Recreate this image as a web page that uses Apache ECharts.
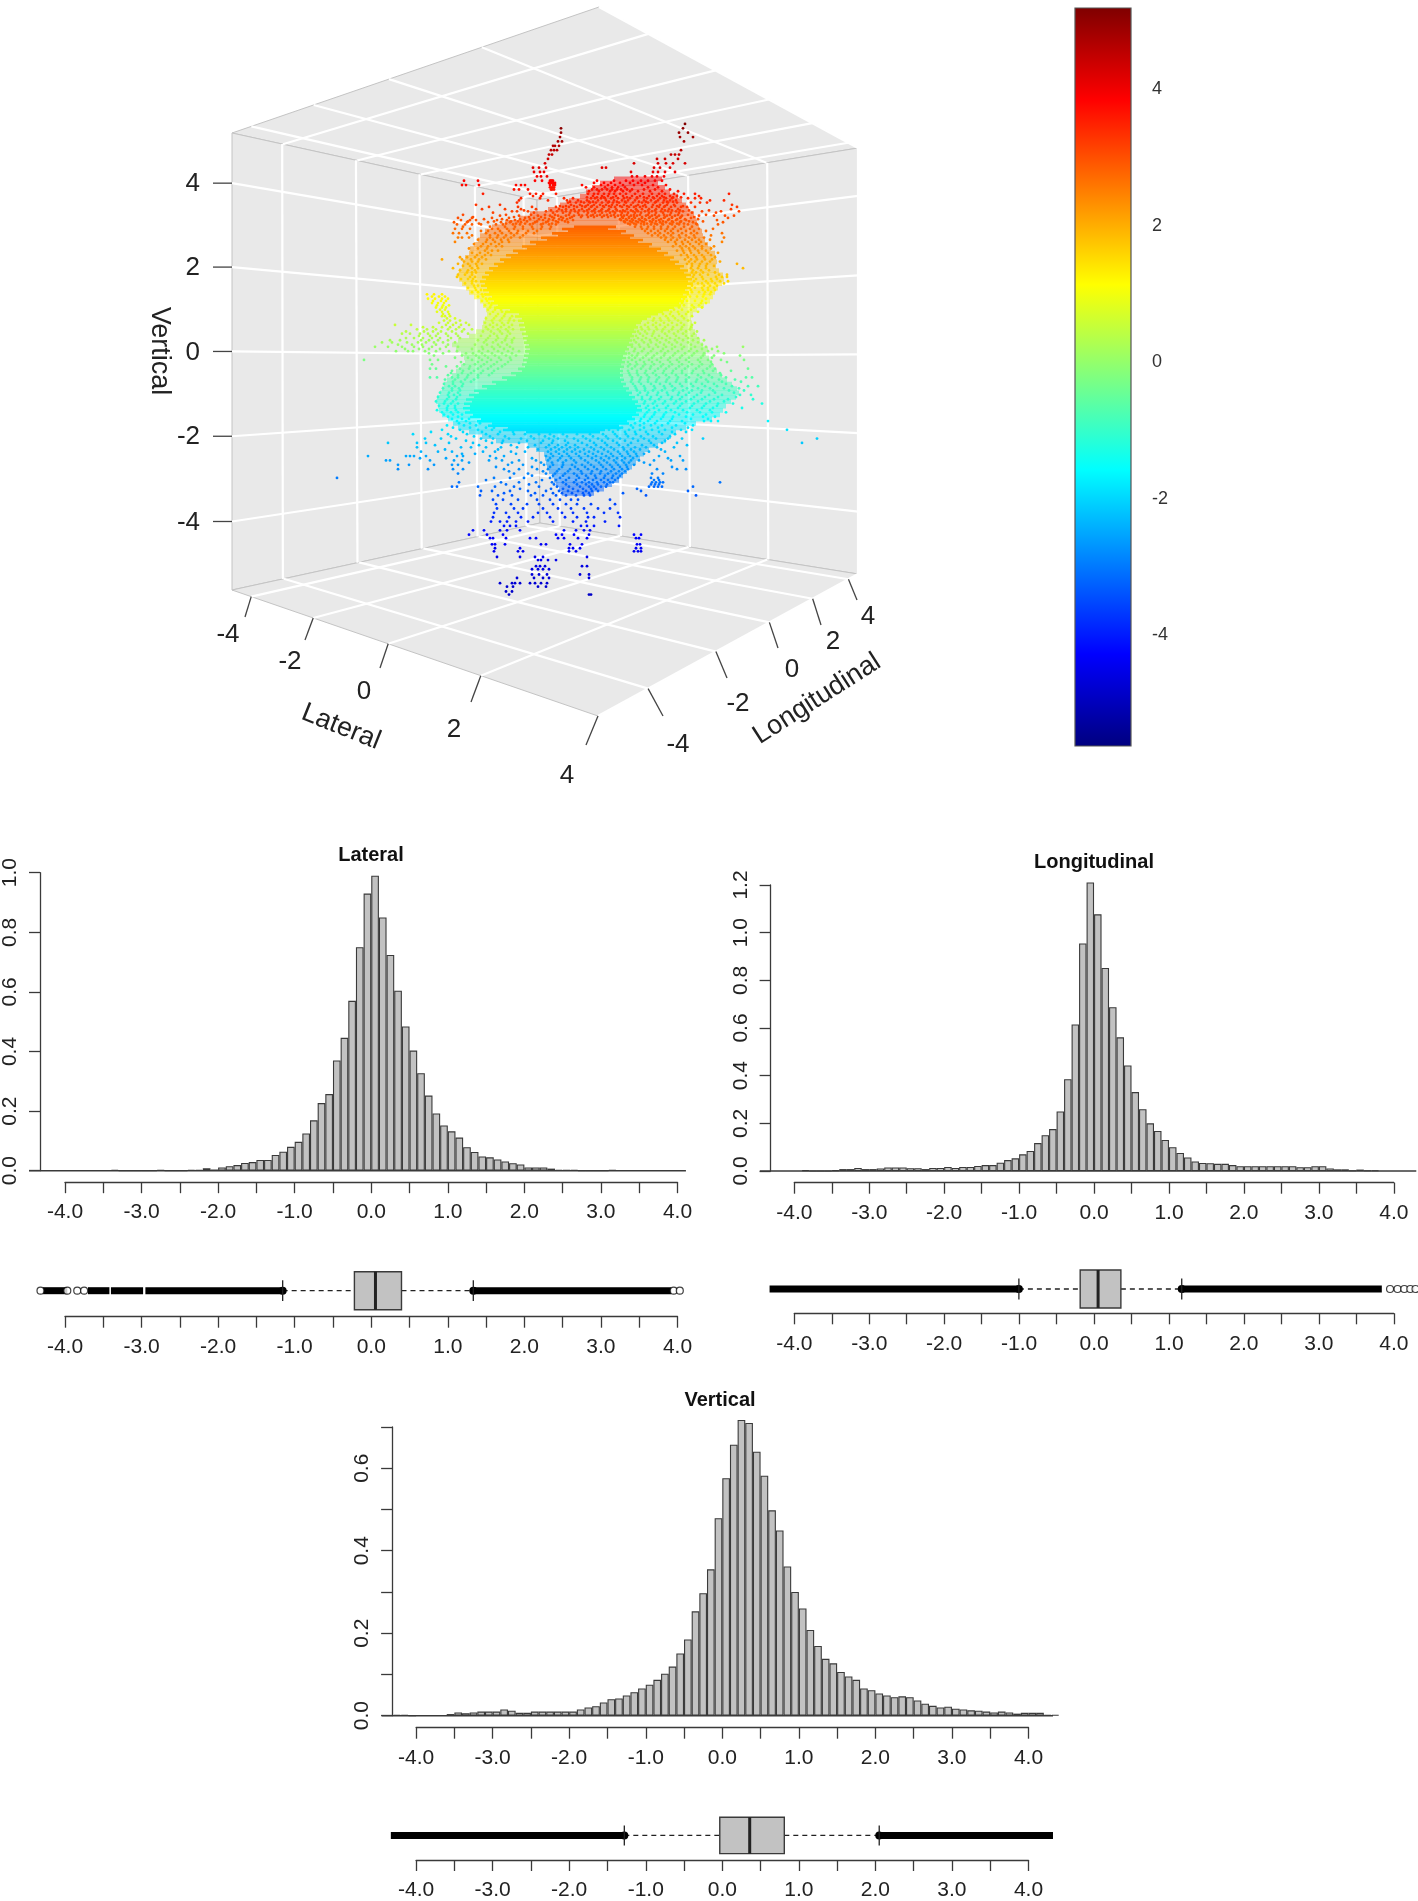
<!DOCTYPE html>
<html><head><meta charset="utf-8">
<style>html,body{margin:0;padding:0;background:#fff}#c{width:1418px;height:1901px}</style>
<script src="https://cdn.jsdelivr.net/npm/echarts@6/dist/echarts.min.js"></script>
</head><body><div id="c"></div>
<script>
// ---------- DATA ----------
// histogram bin heights; each list starts at the left edge named *Start, bins are 0.1 wide
const binWidth = 0.1;
const lateralStart = -3.4;
const lateralDensity = [.003,0,0,0,0,0,.002,0,0,0,.003,.003,.008,.004,.011,.015,.019,.026,.029,.036,.036,.053,.064,.08,.097,.125,.169,.227,.257,.37,.446,.57,.75,.93,.99,.85,.724,.604,.484,.403,.327,.252,.192,.152,.132,.111,.079,.063,.048,.045,.038,.031,.025,.021,.011,.011,.011,.007,.003,.002,.002,0,0,0,0,.002];
const longitudinalStart = -3.9;
const longitudinalDensity = [.003,0,0,0,.003,.008,.008,.013,.008,.008,.011,.015,.015,.015,.012,.012,.008,.013,.013,.017,.013,.017,.017,.021,.025,.025,.035,.046,.053,.07,.084,.117,.15,.176,.25,.385,.615,.955,1.211,1.077,.852,.687,.561,.443,.331,.259,.2,.168,.13,.1,.076,.057,.04,.034,.033,.03,.03,.025,.02,.02,.02,.02,.02,.02,.02,.02,.016,.016,.02,.02,.011,.007,.007,.002,.006,.002,.002];
const verticalStart = -4.3;
const verticalDensity = [.002,.002,0,.001,.001,.001,.001,.004,.008,.006,.008,.01,.01,.01,.015,.012,.007,.007,.01,.01,.01,.01,.01,.01,.015,.02,.023,.032,.04,.042,.049,.057,.066,.075,.087,.102,.119,.151,.185,.253,.297,.355,.479,.576,.657,.717,.71,.64,.582,.498,.449,.362,.3,.26,.208,.169,.138,.127,.106,.095,.087,.066,.062,.054,.049,.045,.047,.045,.037,.029,.024,.02,.022,.017,.015,.013,.012,.01,.008,.01,.008,.005,.007,.007,.007,.002,.002];

// box summaries: [lower whisker, Q1, median, Q3, upper whisker]
const lateralBox = [-1.157,-0.22,0.055,0.395,1.333];
const longitudinalBox = [-1.003,-0.185,0.054,0.358,1.17];
const verticalBox = [-1.28,-0.033,0.358,0.81,2.05];
// runs of outliers so dense they merge into a solid bar
const lateralOutlierRuns = [[-4.29,-3.97],[-3.7,-3.42],[-3.4,-2.98],[-2.95,-1.157],[1.333,3.92]];
const longitudinalOutlierRuns = [[-4.33,-1.003],[1.17,3.84]];
const verticalOutlierRuns = [[-4.33,-1.28],[2.05,4.32]];
// isolated outliers
const lateralOutliers = [-4.32,-3.97,-3.84,-3.75,3.95,4.03];
const longitudinalOutliers = [3.95,4.05,4.14,4.22,4.29];
const verticalOutliers = [];

// colour scale
const colorMin = -5.62, colorMax = 5.19;
const jetColors = ['#00007f','#0000ff','#00ffff','#ffff00','#ff0000','#7f0000'];
const jetStops = [0,0.125,0.375,0.625,0.875,1];
const colorTicks = [-4,-2,0,2,4];
const pointColors = ['#0000c8','#0000ff','#007fff','#00ffff','#7fff7f','#ffff00','#ff7f00','#ff0000','#7f0000'];

// 3D axes
const tickValues3d = [-4,-2,0,2,4];
const lateralRange = [-4.7,4], longitudinalRange = [-5.2,4.6], verticalRange = [-5.6,5.2];

// 3D cloud as seen on the page: each row = [vertical value, view-x, view-x, ...]
const plumeRows = [
[5.15,10.3],[5.05,-2.1,10.1],[4.95,-2.1,9.7,10.6],[4.85,-2.2,9.8,11.1],[4.75,-2.4,-2.0,10.2],[4.65,-2.7,-2.3,-2.9],[4.55,-3.1,-2.5,-2.8,9.9],
[4.45,-3.3,-3.0,8.9,9.3,9.7],[4.35,-3.4,7.5,8.3,9.6],[4.25,-3.7,5.2,7.6,8.4,9.1,10.3],[4.15,-4.3,-3.6,-4.9,2,2.4,7.2,7.8,8.8],
[4.05,-4.8,-4.2,-3.8,4.9,7.1,7.6,8.3,9.3],[3.95,-4.5,-4.1,-3.5,5.0,5.5,6.3,7,7.5,8.2],
[3.85,-11.8,-10.4,-4.7,-4.0,-3.2,-3.1,-3.0,-2.9,1.5,3.2,4.4,5.1,5.9,6.6,7.3,8],
[3.8,-3.3,-3.1,-2.9,-2.7,1.2,2.2,2.9,3.8,4.8,5.6,6.3],
[3.75,-12,-11.6,-10.3,-6.6,-6.1,-5.7,-3.2,-2.9,-2.7,0,1.9,2.6,3.3,4.1,5.2,6,7.1,8.4],
[3.7,-3.2,-3.0,-2.8,.4,1.2,2.3,3,3.6,4.3,6.6,7.6],
[3.65,-6.8,-6.3,-5.4,-3.1,-3,-2.8,1.0,1.5,2,2.5,3,3.5,3.9,4.5,5,6.2,7.3,8.8],
[3.61,.7,1.7,2.8,3.3,4.1,4.8,5.6,6.8,8,9.6],
[3.55,-9.9,-5.2,-4.6,-3.9,-2.6,.6,1.2,1.6,2.2,2.7,3.2,3.8,4.4,5.3,6.1,7,7.7,8.3,9.2,10.2,11.3,14.7],
[3.5,-4.9,-4.1,1.1,2,2.6,3.4,4.1,5,5.8,6.7,7.5,8,8.8,9.5,11.7],
[3.47,.5,1.5,2.2,3.1,4.5,5.5,6.2,7.1,8.2,9.1,9.9],
[3.45,-6.1,-4.2,-1.8,-.9,.9,1.3,1.9,2.3,2.9,3.6,4.2,4.8,5.5,6.5,7.2,7.8,8.4,9,10.6,11.3,11.9],
[3.4,-6.3,-3.4,-1.5,-.4,.5,1.6,2.4,3.2,4,4.6,5.3,6.2,6.9,7.6,8.2,8.8,9.4,12.8,14.2],
[3.37,-1.2,-.1,.7,1.1,2.7,3.5,4.3,5.7,6.4,7.4,8.5,9.1],
[3.35,-6.5,-1.4,-.6,.2,.8,1.4,2,2.6,3.1,3.7,4.4,5.1,6,6.6,7.3,8.1,8.6,9.5,10.9,11.8,12.5],
[3.3,-10.6,-8.2,-1.1,-.2,.6,1.2,1.8,2.4,3,3.5,4.2,4.9,5.6,6.3,7.1,7.8,8.5,9.2,15],
[3.27,-2.2,-1.6,-.8,0,.4,1,2.1,2.7,3.8,4.5,5.4,6.1,7.5,8.3,9.3,10.1],
[3.25,-9.3,-6.4,-5,-2.6,-1.9,-1.3,-.5,.3,.9,1.5,2.2,2.9,3.3,4,4.7,5.2,5.8,6.4,7,7.7,8.2,8.9,9.9,10.5,11.3,15.5],
[3.2,-10,-7.7,-6.1,-4.6,-2.3,-1.6,-.8,0,.7,1.3,2,2.7,3.4,4.5,5.4,6,6.7,7.4,8,8.7,9.6,14.9],
[3.17,-5.8,-3.1,-2,-1.1,-.3,.5,1.2,1.9,2.6,3.5,4.1,4.9,5.5,6.6,7.3,8.3,9,9.8,10.7,12.7]
];
const upperRows = [
[3.15,-7.0,-6.5,-5.4,-3.6,-2.5,-1.6,-.7,.2,1,1.7,2.4,3.1,3.8,4.3,5.1,5.6,6.3,7,7.9,8.6,9.4,10.1,12,13.9,15.7],
[3.12,-8.9,-4.8,-2.9,-1.9,-1.2,-.4,.6,1.3,2,2.8,3.3,4,4.6,5.3,5.9,6.7,7.4,8.1,8.9,9.7,11,13.4],
[3.07,-11.9,-7.6,-5.1,-3.7,-2.7,-1.3,-.3,.5,1.1,1.8,2.5,3.2,3.9,4.5,5.2,5.8,6.6,7.3,8.2,8.8,9.6,10.6,12.4],
[3.05,-8.2,-6.3,-4.4,-3.2,-2.4,-1.6,-.8,0,.9,1.5,2.2,2.9,3.6,4.2,4.9,5.5,6.4,7,7.7,8.5,9.3,10,11.7,13.2,14.3,15.2],
[3.02,-10.9,-6.8,-5.3,-4.1,-3,-2.1,-1,-.1,.6,1.2,2,2.6,3.3,4,4.7,5.2,6,6.8,7.5,8.3,9,9.9,11.2],
[3,-12.4,-11,-9,-7.3,-5.7,-4.8,-3.7,-2.8,-1.9,-1.2,4.1,4.7,5.3,6,6.7,7.4,8.2,9,9.8,10.9,14.6],
[2.97,-9.8,-8,-6.2,-5.2,-4.3,-3.3,-2.3,-1.5,3.8,4.4,5,5.7,6.3,7.1,7.9,8.7,9.5,10.3,11.6],
[2.95,-12.1,-11.2,-10.6,-8.5,-7.5,-6.7,-5.8,-3.9,-2.9,-2,-.9,3.9,4.5,5.1,5.8,6.4,7.1,7.7,8.6,9.4,10.4,13.5],
[2.92,-11.4,-8.8,-7.1,-6.4,-5.5,-4.5,-3.4,-2.6,-1.7,4.2,4.8,5.4,6,6.8,7.4,8.1,9,9.9,10.7,12.1],
[2.9,-12.8,-11.5,-9.4,-8.1,-7.2,-6.1,-4.7,-3.6,-2.4,-1.4,4.3,5,5.6,6.2,7,7.8,8.4,9.1,9.8,11.1,14.1],
[2.87,-10.3,-7.6,-6.6,-5.7,-4.9,-3.9,-3,4.6,5.2,5.9,6.5,7.3,8,8.8,9.5,10.2,11.4],
[2.85,-12.5,-11.7,-11,-10.1,-8.6,-7.9,-6.9,-6.2,-5.2,-4.1,-3.3,-2.6,4.8,5.4,6.2,6.9,7.5,8.1,9,9.7,10.6,11.5,13.6],
[2.8,-11.9,-9.2,-7.7,-6.7,-5.9,-5,-4,-3.1,5.3,5.9,6.6,7.2,7.9,8.6,9.3,10.2,11],
[2.75,-12.7,-12,-11.2,-9,-8.4,-7.5,-6.8,-5.9,-4.9,-4.1,-3.2,6,6.5,7.2,7.9,8.5,9.1,9.9,10.8,11.7,13.1],
[2.7,-10.1,-9.4,-8.2,-7.3,-6.4,-5.4,-4.5,6.3,6.9,7.6,8.3,8.9,9.6,10.4,11.2,12.4],
[2.65,-12.9,-12.3,-11.5,-9.6,-8.7,-8,-7.1,-6.5,-5.6,-4.8,6.6,7.3,7.8,8.6,9.1,10,10.9,11.5,14],
[2.6,-11,-9.2,-8.4,-7.6,-6.8,-5.9,7,7.6,8.2,8.9,9.7,10.4,11.2,12.9],
[2.55,-12.4,-12,-11.3,-9.2,-8.5,-7.8,-7.1,-6.2,7.9,8.4,9.1,9.8,10.7,11.3,12.2,14.2],
[2.5,-10.4,-9.5,-8.9,-8.1,-7.4,8.3,8.9,9.5,10.3,11,11.7,12.8],
[2.45,-12.7,-9.6,-8.7,-8,-7.3,8.6,9.3,10,10.6,11.4,11.9,14],
[2.4,-10.8,-9.9,-9.1,-8.3,9.4,10.1,10.8,11.7,12.4],
[2.35,-10.1,-9.4,-8.6,-8,9.1,9.8,10.4,11.1,12,13.2],
[2.3,-11.3,-10.4,-9.5,10,10.7,11.3,12,12.9],
[2.25,-9.7,-9,-8.4,9.5,10.1,10.8,11.6,12.4],
[2.2,-11,-10.2,-9.4,10.2,10.9,11.7,12.6,13.6],
[2.15,-10.5,-9.7,-9.1,9.9,10.5,11.2,12,12.9],
[2.1,-12.2,-11.5,-10.7,-10,10.6,11.4,12.2,13.3],
[2.05,-14,-12,-11.1,-10.3,-9.6,10.3,10.9,11.5,12.3,13],
[2,-11.8,-11,-10.4,10.7,11.3,12,12.8,13.8],
[1.95,-12.4,-11.4,-10.6,-10,10.5,11,11.8,12.5,15.5],
[1.9,-11.9,-11.2,-10.5,11,11.7,12.4,13.2],
[1.85,-12.9,-11,-10.4,10.9,11.6,12.4,16.1],
[1.8,-12.2,-11.4,-10.7,11.1,11.9,12.7],
[1.75,-11.5,-11,-10.6,11,11.4,12.1,13.3],
[1.7,-12.4,-11.7,-11,11.2,11.8,12.6,13.7,14.5],
[1.65,-12.5,-11.2,-10.7,11.1,12,13.4,14,14.5],
[1.6,-12.1,-11.4,-10.9,11.4,12.1,12.9,13.5],
[1.55,-11,-10.6,11.2,12.4,13,13.8,14.6],
[1.5,-11.7,-11,11.6,12,12.6,13.3,14.2],
[1.45,-10.8,-10.4,11,12.2,12.8,13.5],
[1.4,-11.4,-10.7,11.3,12,12.6,13.2],
[1.35,-10.6,-10.1,10.9,12.1,12.6,13.3],
[1.3,-11,-10.4,11,11.7,12.3,12.9],
[1.25,-15.5,-14.8,-14,-10,-9.7,10.6,12.2,12.8],
[1.2,-15,-14.3,-13.7,-10.4,-9.9,10.8,11.5,12.1],
[1.15,-15.4,-14.7,-14,-13.4,-9.6,-9.2,10.2,12.4],
[1.1,-14.9,-14.1,-13.6,-10,-9.5,10.5,11.3,12],
[1.05,-15,-14.4,-13.8,-9.3,-9,10,11.9,12.4],
[1,-14.5,-13.9,-13.3,-9.7,-9.1,10.2,11,11.7],
[.95,-14.6,-14,-13.6,-9.2,-8.5,9.7,11.2,12],
[.9,-14.2,-13.7,-9.4,-8.7,-8.1,9.2,10,10.9],
[.85,-14.5,-14,-13.4,-8.9,-8,-7.5,8.9,9.6,10.6,11.6],
[.8,-13.9,-13.3,-9.2,-8.4,-7.7,8.1,8.8,9.7,10.4],
[.75,-14,-13.7,-13.2,-8.6,-7.8,-7,8.4,9.1,10,11],
[.7,-13.5,-12.7,-9.6,-8.8,-8,-7.2,7.2,7.8,8.6,9.3,10.2],
[.65,-13.8,-13.2,-12.2,-9,-8.2,-7.3,-6.8,7.1,7.9,8.7,9.6,10.6],
[.6,-14.3,-13.4,-12.6,-11.6,-9.7,-8.9,-8,-7.4,6.6,7.4,8.2,9,9.9,11.3]
];
const middleRows = [
[.55,-18.7,-17.1,-13.6,-12.9,-12.1,-11.3,-9.2,-8.5,-7.8,-7,6.3,7.1,7.8,8.6,9.5,10.2,11],
[.5,-15.9,-14.9,-14,-13.2,-12.3,-9.6,-8.9,-8.1,-7.3,5.9,6.6,7.4,8.3,9.1,10,10.9],
[.45,-16.5,-15.5,-14.6,-13.4,-12.6,-11.8,-11,-9.4,-8.4,-7.6,-6.9,6,6.7,7.5,8.1,9,9.9,10.8],
[.4,-17.6,-15.8,-14.9,-14.1,-13,-12,-9.9,-9.1,-8.2,-7.4,5.6,6.3,7.2,8,8.7,9.6,10.4,11.5],
[.35,-18,-17.2,-16.2,-15.4,-14.4,-13.6,-12.6,-11.4,-8.8,-8,-7.2,5.8,6.5,7.1,8.3,9.2,10.1,11.2],
[.3,-16.3,-15.2,-14.6,-13.4,-12.4,-10.1,-9.2,-8.5,-7.5,5.4,6.1,7,7.7,8.5,9.4,10.4,11],
[.25,-17.6,-16.8,-15.9,-15,-14.2,-13.1,-12.2,-9.4,-8.4,-7.6,-6.8,5.6,6.4,7.3,8,8.8,9.7,10.6,11.6],
[.2,-19.2,-18.2,-16.1,-15.3,-14.4,-13.4,-10.4,-9.6,-8.6,-7.7,-7,5.2,6,6.8,7.5,8.4,9.3,10.1,11.1,12.2],
[.15,-20,-19,-17.5,-16.4,-15.6,-14.8,-13.9,-12.7,-9.8,-8.9,-8,-7,5.4,6.2,6.9,7.8,8.7,9.5,10.6,11.6],
[.1,-18.4,-17,-16,-14.6,-13.4,-10.7,-9.5,-8.4,-7.5,5,5.7,6.6,7.4,8.2,9,9.9,10.9,12],
[.05,-20.7,-19.4,-18,-16.8,-15.9,-15,-13.6,-12.4,-10,-9,-8.2,-7.2,5,5.8,6.7,7.6,8.4,9.3,10.2,11.3,12.4,13.5,16.1],
[0,-17.7,-16.3,-15.3,-14.2,-11,-9.9,-8.8,-7.8,-6.9,5.3,6.2,7.1,8.1,9,10,10.9,12,13],
[-.05,-18.6,-17.4,-16.9,-15.7,-14.6,-13.3,-12.5,-10.3,-9.4,-8.4,-7.4,-6.3,5.2,6,6.9,7.9,8.6,9.6,10.7,11.5,12.6,13.6],
[-.1,-15.3,-13.9,-11.6,-10.9,-10,-9,-8,-7,4.7,5.6,6.6,7.5,8.3,9.3,10.3,11.2,12.2,14.2],
[-.15,-14.8,-12,-10.6,-9.7,-8.7,-7.6,-6.6,5,5.5,6.4,7.2,8.2,9.1,10,11,12.1,13.2,15.8],
[-.2,-12.7,-11.4,-10.3,-9.4,-8.3,-7.2,4.7,5.3,6.1,7,7.9,8.8,9.8,10.7,11.9,13],
[-.25,-21.8,-15.2,-14.4,-11,-10,-9.1,-8.1,-7.1,5,5.8,6.7,7.5,8.6,9.5,10.4,11.6,12.6,13.9,16.2],
[-.3,-12.1,-10.4,-9.5,-8.5,-7.4,4.6,5.4,6.2,7,7.8,8.8,9.7,10.7,11.8,12.9,14.5],
[-.35,-15,-11.8,-10.7,-9.8,-8.8,-7.7,4.8,5.5,6.3,7.2,8.1,9,10,11,12,13],
[-.4,-13.6,-12.5,-11.2,-10.1,-9.1,-8,4.6,5.3,6.1,6.9,7.9,8.7,9.7,10.6,11.7,12.8],
[-.45,-15.2,-14.6,-12.2,-11.3,-10.4,-9.4,-8.4,5,5.9,6.8,7.6,8.4,9.4,10.3,11.4,12.5,13.3,16.6],
[-.5,-13,-11.9,-10.8,-9.9,-8.8,4.6,5.5,6.4,7.3,8.2,9.1,10,11.1,12.1,13.1,14.9],
[-.55,-13.1,-12,-11.1,-10.1,-9,4.7,5.5,6.3,7.1,8.1,9,10,11,12.2,13.8],
[-.6,-13.4,-12.4,-11.4,-10.4,-9.3,4.8,5.6,6.5,7.4,8.4,9.4,10.4,11.6,12.7,13.9],
[-.65,-15.2,-14.5,-13,-12.4,-11.5,-10.4,5,5.9,6.7,7.7,8.7,9.6,10.7,11.9,13,14.4,16.4,17],
[-.7,-13.7,-12.7,-11.7,-10.8,5,5.8,6.6,7.5,8.5,9.5,10.4,11.5,12.4,13.7,15.3],
[-.75,-12.9,-12.1,-11.1,4.9,5.7,6.6,7.4,8.4,9.4,10.4,11.4,12.6,14,15.9],
[-.8,-13.8,-12.9,-11.9,5.1,5.9,6.9,7.8,8.8,9.8,10.9,12,13.2,14.4],
[-.85,-13.3,-12.7,-12,5.3,6.2,7.2,8.2,9,10,11.1,12.3,13.5,15,16.6,17.6],
[-.9,-13.9,-13,-12.3,5.4,6.3,7.3,8.3,9.3,10.5,11.6,12.8,14.2,15.7],
[-.95,-13,-12.2,5.5,6.3,7.1,8,9.1,10.1,11,12,13.1,14.7,16.2],
[-1,-14.2,-13.3,-12.4,5.8,6.6,7.6,8.5,9.7,10.7,11.9,13.3,15.2],
[-1.05,-13.4,-12.8,-12.2,5.6,6.5,7.5,8.6,9.6,10.4,11.5,12.7,14,15.8,16.9],
[-1.1,-14.4,-13.3,-12.5,6,6.9,7.9,9,10,11.2,12.3,13.6,15.4],
[-1.15,-13.5,-12.6,6,6.8,7.7,8.9,9.8,10.9,12,13.2,14.6,17.1],
[-1.2,-14.6,-13.7,-12.9,6.3,7.3,8.3,9.4,10.4,11.6,12.8,14.2],
[-1.25,-13.8,-13.1,-12.4,6.2,7.1,8.1,9.2,10,11.2,12.4,13.6,15.1,18],
[-1.3,-14.3,-13.4,-12.7,6.6,7.5,8.6,9.8,11,12.2,13.5],
[-1.35,-13.5,-12.7,6.4,7.2,8.4,9.6,10.8,12,13.1,16],
[-1.4,-14.5,-13.5,-12.6,6.7,7.7,8.9,10.1,11.5,12.8],
[-1.45,-14,-13.1,-12.4,6.5,7.3,8.4,9.3,10.5,11.8,13,14.4],
[-1.5,-13.8,-12.9,-12,6.3,7.2,8.2,9.7,11.1,12.4],
[-1.55,-13.4,-12.4,6.2,7,8.1,9.1,10.4,12.1,13.3],
[-1.6,-13,-12,-11.3,5.9,6.8,7.9,9,10.9,12.6],
[-1.65,-12.5,-11.6,5.8,6.6,7.5,8.8,10,12.2,12.9,13.6,18.6],
[-1.7,-12.3,-11.2,-10.2,5.3,6.2,7.3,8.6,10.3],
[-1.75,-13.5,-11.8,-10.6,4.9,5.8,6.9,8,9.4,11.1],
[-1.8,-12.9,-11.2,-9.6,-8.8,4,5.1,6.2,7.6,9,10.6]
];
const lowerRows = [
[-1.85,-14,-12.2,-10.4,-9,-7.4,-6.2,-5,-3.9,-2.6,-1.2,0,1.3,2.7,3.6,4.7,5.8,7,8.3,9.9,11,20.5],
[-1.9,-15.1,-11.9,-10,-8.2,-6.9,3.1,4.3,5.3,6.4,7.7,9,10.4],
[-1.95,-16.9,-13.4,-11.5,-9.6,-8.4,-6.8,-5.7,-4.3,-3.2,-1.9,-.5,.8,2.1,3.3,4.4,5.4,6.6,8,9.3],
[-2,-13.1,-10.8,-9.2,-7.7,-5.1,-3.7,-2.8,-1.5,.1,1.1,2.4,3.5,4.6,5.9,7.1,8.8],
[-2.05,-15.7,-14.1,-12.6,-10.1,-8.9,-7.3,-6.1,-4.8,-3.3,-2.4,-.8,.4,1.6,2.6,3.8,5.1,6.2,7.4,8.6,10,12.1,23.5],
[-2.1,-11.6,-9.6,-7.9,-5.5,-3.9,-2.9,-1.7,-.4,.8,2,3.1,4.3,5.6,6.7,8.3],
[-2.15,-19.4,-16.5,-15.6,-13.3,-10.9,-9,-8,-6.3,-4.1,-3,-1.4,0,1.2,2.3,3.5,4.9,6.9,8,9.5,22],
[-2.2,-14.7,-10.3,-7.1,-4.7,-3.3,-2.4,-1.6,-.7,.5,1.4,2.5,3.7,4.6,6,7.2,10.5],
[-2.25,-16.5,-12.1,-11.1,-9.6,-8.1,-6.5,-5.4,-3.6,-2.7,-2,-1.2,-.4,.9,1.9,2.9,4.1,5.3,6.4,7.5,9.2],
[-2.3,-13.7,-8.4,-4.4,-3.1,-2.3,-1.5,-.7,.2,1.2,2.2,3.2,4.2,4.9,5.8,7.9],
[-2.35,-16.1,-14.4,-13,-9.9,-8.7,-7.1,-5.7,-3.4,-2.6,-1.8,-1,-.2,.7,1.6,2.6,3.6,4.5,5.2,6.7,8.3],
[-2.4,-12,-10.7,-6.6,-3.1,-2.3,-1.5,-.6,.3,1.1,2,2.9,3.8,4.6,5.4,6.2],
[-2.45,-21.4,-17.6,-17.2,-16.8,-15.6,-12.5,-11.9,-9.2,-7.8,-3.6,-2.9,-2,-1.3,-.3,.6,1.4,2.4,3.1,4,4.8,5.5,7.7,9.8],
[-2.5,-16.2,-13.6,-8.6,-5,-3.2,-2.2,-1.1,-.1,1,1.9,2.7,3.5,4.3,5.1,8.6],
[-2.55,-19.6,-19.2,-15.2,-12.8,-12,-9.3,-8,-6.3,-4.6,-3.4,-2.4,-1.6,-.8,.3,1.4,2.2,3.2,4,4.9,5.7,7.2,8.9,10.1],
[-2.6,-11.3,-7,-4.1,-3,-1.9,-.6,.6,1.7,2.5,3.4,4.2,4.7,6.2],
[-2.65,-18.4,-17.3,-14.8,-13,-12.4,-7.4,-5.9,-3.8,-2.9,-1.9,-1,0,.9,1.9,2.8,3.6,4.4,5.2,6.8],
[-2.7,-8.6,-5,-3.2,-2,-.7,.3,1.2,2.1,3,3.8,4.5,9],
[-2.75,-18.4,-15.4,-12.9,-11.9,-7.8,-6.3,-4.5,-3.4,-2.3,-1.2,-.4,.6,1.5,2.4,3.2,4,4.6,7.5,9.5,10.4],
[-2.8,-7.3,-3.9,-2.5,-1.4,-.1,1,1.9,2.9,3.7,4.3],
[-2.85,-12.4,-6.8,-5.4,-3.6,-2.7,-1.7,-.8,0,.9,1.8,2.6,3.4,4,7,8.1],
[-2.9,-5,-2.9,-1.9,-.5,.4,1.3,2.3,3.1,3.8],
[-2.95,-24.5,-8.8,-7.2,-5.8,-3.2,-2.2,-1.3,-.3,.6,1.4,2.2,3,3.6,6.9,7.6],
[-3,-9.6,-4,-2.6,-1.6,-.6,.3,1.1,1.9,2.6,3.3,7.2,7.7],
[-3.05,-12.3,-8.1,-6.3,-4.6,-3,-1.9,-.8,0,.7,1.5,2.2,2.8,3.1,7,7.4,7.8,8.1,13.8],
[-3.1,-7.6,-5.3,-2.8,-1.6,-.5,.4,1,1.6,2.5,6.9,7.3,7.7],
[-3.15,-13,-12.5,-10.4,-8.7,-6.8,-4.3,-2.5,-1.3,-.2,.7,1.2,1.9,2.4,6.7,7.2,7.6,8,11.1],
[-3.2,-6.2,-3.1,-1.9,-.9,.1,.9,1.4,5.5],
[-3.25,-10.1,-9,-7.2,-5.4,-3.6,-2.3,-1.4,-.4,.4,1,1.6,5.9,10.6],
[-3.3,-7.8,-4.7,-2.9,-2,-1,.1,.7,4.1],
[-3.35,-10.2,-8.4,-7,-5.1,-3.9,-2.6,-1.6,-.6,.2,.8,6.4,11.4],
[-3.45,-8.9,-7.9,-6.4,-4.5,-3.2,-2.2,-1.1,-.4,2.8],
[-3.55,-8.6,-7.1,-5.5,-4.3,-2.9,-1.6,-.5,.9,3.3],
[-3.65,-8.5,-6.8,-5.9,-3.9,-2.4,-1.1,.2,1.6,2.8],
[-3.75,-8.8,-7.6,-6.4,-4.4,-3.5,-2,-.9,.5,2.2,3.6],
[-3.85,-8.9,-7.3,-6.1,-4.9,-3.2,-1.7,-.5,.6,1.2,3.8],
[-3.95,-9.1,-8.2,-7.5,-6.6,-5.4,-2.9,-.9,.4,2.3],
[-4.05,-7.8,-7.2,-6.6,-.1,.5,1.2,3.7],
[-4.15,-10.9,-9.8,-8.2,-7.5,-6.2,-1.8,-.6,.2,.8],
[-4.25,-11.3,-9.5,-7.9,-2.6,-2,-.8,.7,5.2,5.9],
[-4.33,-9.2,-8.9,-7.6,-5.2,-4.6,-2.4,-1.8,-.4,.5,5.4,5.7],
[-4.47,-9,-8.7,-7.7,-4.1,-3.6,-1.2,0,5.5,5.8],
[-4.56,-8.7,-6.2,-1.3,-.9,-.2,5.4,5.9],
[-4.63,-8.8,-6.4,-5.9,-1.3,-.6,5.2,5.6,5.9],
[-4.76,-8.5,-6.2,-4.7,-3.9,.5],
[-4.83,-4.4,-4.1,-3.4,-2.6],
[-4.97,-4.6,-4.2,-3.7,0,.5],
[-5.04,-5,-4.4,-3.9,-3.3],
[-5.16,-5,-4.3,-3.5,-.2,.7],
[-5.24,-6.5,-4.8,-3.9,-3.3,.7],
[-5.36,-8.2,-7,-6.7,-6.2,-5.2,-4.7,-4.1,-3.5],
[-5.44,-7.5,-6.9,-4.4,-3.6],
[-5.55,-7.6,-7],
[-5.62,-7.3,.7,.9],
[-5.8,-.3]
];
// solid core of the cloud: [vertical value, view-x left, view-x right]
const coreRows = [
[2.8,-.8,3.4],[2.75,-2,2.6],[2.7,-1.4,4.4],[2.65,-3,3.9],[2.6,-2.4,5.2],[2.55,-4.1,4.8],[2.5,-3.5,6.1],[2.45,-5.2,5.6],[2.4,-4.6,7],[2.35,-6,6.7],
[2.3,-5.5,7.9],[2.25,-6.9,7.5],[2.2,-6.4,8.6],[2.15,-7.6,8.2],[2.1,-7.1,9.2],[2.05,-8.2,8.8],[2,-7.8,9.7],[1.95,-8.8,9.3],[1.9,-8.4,10.2],[1.85,-9.3,9.8],
[1.8,-8.9,10.6],[1.75,-9.7,10.2],[1.7,-9.3,10.9],[1.65,-10,10.4],[1.6,-9.6,11],[1.55,-10.2,10.6],[1.5,-9.7,11.1],[1.45,-10.1,10.5],[1.4,-9.5,10.9],[1.35,-9.9,10.3],
[1.3,-9.3,10.7],[1.25,-9.7,10.1],[1.2,-9,10.5],[1.15,-9.4,9.9],[1.1,-8.8,10.2],[1.05,-9.1,9.7],[1,-8.4,9.9],[.95,-8.8,9.2],[.9,-7.2,8.7],[.85,-7.7,8.1],
[.8,-6.3,7.6],[.75,-6.7,6.9],[.7,-6,6.5],[.65,-6.4,6],[.6,-5.8,5.9],[.55,-6.3,5.4],[.5,-5.7,5.6],[.45,-6.2,5.2],[.4,-5.6,5.4],[.35,-6,5],
[.3,-5.4,5.2],[.25,-5.9,4.8],[.2,-5.5,5],[.15,-5.8,4.7],[.1,-5.3,4.9],[.05,-5.7,4.5],[0,-5.2,4.7],[-.05,-5.7,4.3],[-.1,-5.3,4.5],[-.15,-5.8,4.1],
[-.2,-5.4,4.4],[-.25,-5.9,4],[-.3,-5.5,4.3],[-.35,-6,3.9],[-.4,-5.7,4.2],[-.45,-6.4,3.8],[-.5,-6,4.1],[-.55,-7.1,3.8],[-.6,-6.6,4.1],[-.65,-8,3.8],
[-.7,-7.5,4.2],[-.75,-9,3.9],[-.8,-8.6,4.4],[-.85,-10,4.1],[-.9,-9.5,4.7],[-.95,-10.8,4.4],[-1,-10.3,5],[-1.05,-11.3,4.7],[-1.1,-10.8,5.3],[-1.15,-11.6,5],
[-1.2,-11,5.6],[-1.25,-11.8,5.3],[-1.3,-11.2,5.9],[-1.35,-11.9,5.5],[-1.4,-11.2,6],[-1.45,-11.7,5.4],[-1.5,-10.9,5.7],[-1.55,-11.2,5],[-1.6,-10.1,5.3],[-1.65,-10.5,4.5],
[-1.7,-9,4.7],[-1.75,-9.4,3.7],[-1.8,-7.4,3.9],[-1.85,-7.9,2.3],[-1.9,-5.6,1.8]
];
// thinner envelope of the cloud, where points are dense but not solid: [vertical value, view-x left, view-x right]
const envelopeRows = [
[3.9,3.2,8],[3.8,1.8,7.6],[3.7,1,8.3],[3.6,.4,8.8],[3.5,-.2,9.6],[3.4,-1.3,10],[3.3,-2.2,10.4],[3.2,-3.4,10.7],[3.1,-5.2,11.2],[3,-6.3,11.4],
[2.9,-7.7,11.5],[2.8,-9,11.7],[2.7,-9.7,12],[2.6,-10.2,12.1],[2.5,-10.4,12.3],[2.4,-10.8,12.6],[2.3,-11.2,12.9],[2.2,-11.3,13.3],[2.1,-11.7,13.4],[2,-11.9,13.5],
[1.9,-12,13.4],[1.8,-12.3,13.7],[1.7,-12.4,14.1],[1.6,-12.3,14.2],[1.5,-12,14],[1.4,-11.6,13.6],[1.3,-11.3,13.3],[1.2,-10.8,13.1],[1.1,-10.2,12.8],[1,-9.9,12.2],
[.9,-9.6,11.5],[.8,-9.5,11.1],[.7,-9.7,10.9],[.6,-9.9,11],[.5,-10,11.1],[.4,-10.6,11.3],[.3,-11.3,11.5],[.2,-12.4,11.8],[.1,-13,12.1],[0,-12.6,12.6],
[-.1,-12.1,12.4],[-.2,-11.8,12.7],[-.3,-11.7,13],[-.4,-12.1,13.2],[-.5,-12.6,13.5],[-.6,-13,14],[-.7,-13.5,14.5],[-.8,-13.8,15],[-.9,-14,15.5],[-1,-14.2,15.7],
[-1.1,-14.5,15.4],[-1.2,-14.6,14.9],[-1.3,-14.4,14.4],[-1.4,-14.3,14.1],[-1.5,-14,13.8],[-1.6,-13.4,13],[-1.7,-12.9,11.4],[-1.8,-12.4,10.4],[-1.9,-11.3,9.4],[-2,-10,8.9],
[-2.1,-8.6,8.4],[-2.2,-5.4,7.6],[-2.3,-4.6,6.7],[-2.4,-3.8,6.2],[-2.5,-3.7,5.8],[-2.6,-3.6,5.4],[-2.7,-3.5,5],[-2.8,-3.3,4.5],[-2.9,-3,4.1],[-3,-2.8,3.7],
[-3.1,-2.6,3],[-3.2,-2.3,2.2],[-3.3,-2,1.2]
];

// ---------- LAYOUT / STYLE ----------
const FONT = '"Liberation Sans", Arial, sans-serif';
const INK = '#3a3a3a', FILL = '#c2c2c2', TXT = '#222';

// picture corners of the plot box
const box = {
  floor:[[232,590],[598,716],[858,574],[540,523]],
  ceil:[[232,133],[599,7],[858,148],[537,200]],
  left:[[232,590],[540,523],[537,200],[232,133]],
  right:[[540,523],[858,574],[858,148],[537,200]]
};
function homography(q){
  const [x0,y0]=q[0],[x1,y1]=q[1],[x2,y2]=q[2],[x3,y3]=q[3];
  const dx1=x1-x2,dx2=x3-x2,sx=x0-x1+x2-x3,dy1=y1-y2,dy2=y3-y2,sy=y0-y1+y2-y3;
  const den=dx1*dy2-dx2*dy1,g=(sx*dy2-dx2*sy)/den,h=(dx1*sy-sx*dy1)/den;
  const a=x1-x0+g*x1,b=x3-x0+h*x3,d=y1-y0+g*y1,e=y3-y0+h*y3;
  return (u,v)=>{const w=g*u+h*v+1;return [(a*u+b*v+x0)/w,(d*u+e*v+y0)/w];};
}
const frac=(v,r)=>(v-r[0])/(r[1]-r[0]);
const H={floor:homography(box.floor),ceil:homography(box.ceil),left:homography(box.left),right:homography(box.right)};

// ends of 3D tick marks and where their labels sit
const latTickEnd=[[245,617],[305,640],[380,668],[471,702],[586,745]];
const latLabel=[[228,635],[290,662],[364,692],[454,730],[567,776]];
const lonTickEnd=[[663,716],[727,678],[778,648],[821,625],[857,600]];
const lonLabel=[[678,745],[738,704],[792,670],[833,642],[868,617]];
const vertLabelX=200;

function cubeItem(){
  const kids=[];
  const poly=(q,fill)=>kids.push({type:'polygon',shape:{points:q},style:{fill,stroke:'#c4c4c4',lineWidth:1}});
  const line=(a,b,stroke,w)=>kids.push({type:'line',shape:{x1:a[0],y1:a[1],x2:b[0],y2:b[1]},style:{stroke,lineWidth:w}});
  const panel='#e9e9e9';
  poly(box.ceil,panel);poly(box.left,panel);poly(box.right,panel);poly(box.floor,panel);
  tickValues3d.forEach(t=>{
    const la=frac(t,lateralRange),lo=frac(t,longitudinalRange),ve=frac(t,verticalRange);
    line(H.floor(la,0),H.floor(la,1),'#fff',2.2);
    line(H.floor(0,lo),H.floor(1,lo),'#fff',2.2);
    line(H.ceil(la,0),H.ceil(la,1),'#fff',2.2);
    line(H.ceil(0,lo),H.ceil(1,lo),'#fff',2.2);
    line(H.left(lo,0),H.left(lo,1),'#fff',2.2);
    line(H.left(0,ve),H.left(1,ve),'#fff',2.2);
    line(H.right(la,0),H.right(la,1),'#fff',2.2);
    line(H.right(0,ve),H.right(1,ve),'#fff',2.2);
  });
  tickValues3d.forEach((t,i)=>{
    const ve=H.left(0,frac(t,verticalRange));
    line([ve[0]-19,ve[1]],ve,'#444',1.3);
    kids.push({type:'text',style:{x:vertLabelX,y:ve[1]+1,text:String(t),font:'26px '+FONT,fill:TXT,align:'right',verticalAlign:'middle'}});
    line(H.floor(frac(t,lateralRange),0),latTickEnd[i],'#444',1.3);
    kids.push({type:'text',style:{x:latLabel[i][0],y:latLabel[i][1],text:String(t),font:'26px '+FONT,fill:TXT,align:'center',verticalAlign:'middle'}});
    line(H.floor(1,frac(t,longitudinalRange)),lonTickEnd[i],'#444',1.3);
    kids.push({type:'text',style:{x:lonLabel[i][0],y:lonLabel[i][1],text:String(t),font:'26px '+FONT,fill:TXT,align:'center',verticalAlign:'middle'}});
  });
  return {type:'group',children:kids};
}

// panel geometry: hist grid, box grid, axis offsets
const panels=[
 {name:'Lateral',start:lateralStart,vals:lateralDensity,box:lateralBox,runs:lateralOutlierRuns,out:lateralOutliers,
  left:65,width:612.5,top:872.7,height:298,yMax:1.0,yStep:.2,yOff:25,xOff:11.5,base:[-4.47,4.11],boxTop:1270.7,boxAxis:1316.7,tx:371,ty:845},
 {name:'Longitudinal',start:longitudinalStart,vals:longitudinalDensity,box:longitudinalBox,runs:longitudinalOutlierRuns,out:longitudinalOutliers,
  left:794.3,width:599.5,top:885,height:286,yMax:1.2,yStep:.2,yOff:23.7,xOff:11.7,base:[-4.46,4.3],boxTop:1269,boxAxis:1313.3,tx:1094,ty:852},
 {name:'Vertical',start:verticalStart,vals:verticalDensity,box:verticalBox,runs:verticalOutlierRuns,out:verticalOutliers,
  left:416.1,width:612.4,top:1427,height:288.7,yMax:.7,yStep:.1,yOff:24,xOff:12,base:[-4.45,4.32],boxTop:1816.3,boxAxis:1861.7,tx:720,ty:1390}
];

const grids=[],xAxes=[],yAxes=[],series=[],titles=[];
function hidden(i,min,max){return {gridIndex:i,type:'value',show:false,min,max,splitLine:{show:false}};}

// 0: cube cloud. Cloud axes: view-x (1 unit = 10 picture px), vertical value
const cloud={left:232,top:100,width:626,height:500};
grids.push({left:cloud.left,top:cloud.top,width:cloud.width,height:cloud.height,show:false});
xAxes.push(hidden(0,-35,27.6));
yAxes.push(hidden(0,-5.744,5.698));
// 1: colour bar
grids.push({left:1075,top:8,width:56,height:738,show:false});
xAxes.push(hidden(1,0,1));
yAxes.push({gridIndex:1,type:'value',position:'right',min:colorMin,max:colorMax,splitLine:{show:false},
  axisLine:{show:false},axisTick:{show:true,length:12,customValues:colorTicks,lineStyle:{color:'#555',width:1}},
  axisLabel:{customValues:colorTicks,margin:21,fontFamily:FONT,fontSize:18,color:'#333',formatter:v=>String(v)}});

series.push({type:'custom',name:'frame',coordinateSystem:'none',data:[0],silent:true,z:1,renderItem:cubeItem});
const points=[];
[plumeRows,upperRows,middleRows,lowerRows].forEach(rows=>rows.forEach(r=>{for(let i=1;i<r.length;i++)points.push([r[i],r[0]]);}));
const bandRender=(half,opacity)=>(p,api)=>{
  const a=api.coord([api.value(0),api.value(1)+half]),b=api.coord([api.value(2),api.value(1)-half]);
  return {type:'rect',shape:{x:a[0],y:a[1],width:b[0]-a[0],height:b[1]-a[1]+.4},style:{fill:api.visual('color'),opacity}};
};
const envelopeIndex=series.length;
series.push({type:'custom',name:'envelope',xAxisIndex:0,yAxisIndex:0,data:envelopeRows.map(r=>[r[1],r[0],r[2]]),silent:true,z:2,renderItem:bandRender(.05,.5)});
const coreIndex=series.length;
series.push({type:'custom',name:'core',xAxisIndex:0,yAxisIndex:0,data:coreRows.map(r=>[r[1],r[0],r[2]]),silent:true,z:3,renderItem:bandRender(.025,1)});
const scatterIndex=series.length;
series.push({type:'scatter',name:'accelerations',xAxisIndex:0,yAxisIndex:0,data:points,symbolSize:2.8,silent:true,z:4,itemStyle:{opacity:1}});
series.push({type:'custom',name:'colour bar',xAxisIndex:1,yAxisIndex:1,data:[[colorMin,colorMax]],silent:true,
  renderItem(p,api){
    const a=api.coord([0,api.value(1)]),b=api.coord([1,api.value(0)]);
    return {type:'rect',shape:{x:a[0],y:a[1],width:b[0]-a[0],height:b[1]-a[1]},
      style:{stroke:'#555',lineWidth:1.2,fill:{type:'linear',x:0,y:1,x2:0,y2:0,colorStops:jetColors.map((color,i)=>({offset:jetStops[i],color}))}}};
  }});

panels.forEach(P=>{
  const hi=grids.length, bi=hi+1;
  const unit=P.width/8;
  grids.push({left:P.left,top:P.top,width:P.width,height:P.height,show:false});
  const xa=(off)=>({type:'value',min:-4,max:4,interval:.5,position:'bottom',offset:off,splitLine:{show:false},
    axisLine:{show:true,onZero:false,lineStyle:{color:INK,width:1.3}},
    axisTick:{show:true,length:11,lineStyle:{color:INK,width:1.3}},
    axisLabel:{show:true,margin:20,showMinLabel:true,showMaxLabel:true,fontFamily:FONT,fontSize:21,color:TXT,
      formatter:v=>Number.isInteger(v)?v.toFixed(1):''}});
  xAxes.push(Object.assign(xa(P.xOff),{gridIndex:hi}));
  yAxes.push({gridIndex:hi,type:'value',position:'left',offset:P.yOff,min:0,max:P.yMax,interval:P.yStep,splitLine:{show:false},
    axisLine:{show:true,onZero:false,lineStyle:{color:INK,width:1.3}},
    axisTick:{show:true,length:11,lineStyle:{color:INK,width:1.3}},
    axisLabel:{show:true,rotate:90,margin:19,fontFamily:FONT,fontSize:21,color:TXT,
      formatter:v=>{const r=Math.round(v*10);return r%2===0?(r/10).toFixed(1):'';}}});
  series.push({type:'bar',name:P.name+' histogram',xAxisIndex:hi,yAxisIndex:hi,clip:false,silent:true,barWidth:unit*binWidth,
    data:P.vals.map((v,i)=>[+(P.start+i*binWidth+binWidth/2).toFixed(3),v]),
    itemStyle:{color:FILL,borderColor:INK,borderWidth:1.1}});
  // baseline and solid outlier runs share one drawing: a straight stroke between two axis values
  const stroke=(w,y0)=>(p,api)=>{
    const a=api.coord([api.value(0),y0]),b=api.coord([api.value(1),y0]);
    return {type:'line',shape:{x1:a[0],y1:a[1],x2:b[0],y2:b[1]},style:{stroke:w>3?'#000':INK,lineWidth:w,lineCap:'butt'}};
  };
  series.push({type:'custom',name:P.name+' baseline',xAxisIndex:hi,yAxisIndex:hi,clip:false,silent:true,z:3,
    data:[P.base],renderItem:stroke(1.4,0)});
  // box panel
  const bh=40;
  grids.push({left:P.left,top:P.boxTop,width:P.width,height:bh,show:false});
  xAxes.push(Object.assign(xa(P.boxAxis-P.boxTop-bh),{gridIndex:bi}));
  yAxes.push(hidden(bi,-1,1));
  series.push({type:'custom',name:P.name+' outlier runs',xAxisIndex:bi,yAxisIndex:bi,clip:false,silent:true,z:2,
    data:P.runs,renderItem:stroke(7,0)});
  series.push({type:'scatter',name:P.name+' outliers',xAxisIndex:bi,yAxisIndex:bi,clip:false,silent:true,symbol:'circle',symbolSize:7,
    data:P.out.map(v=>[v,0]),itemStyle:{color:'#fff',borderColor:'#111',borderWidth:1.2},z:3});
  series.push({type:'custom',name:P.name+' box',xAxisIndex:bi,yAxisIndex:bi,clip:false,silent:true,z:4,data:[P.box],
    renderItem(p,api){
      const X=i=>api.coord([api.value(i),0])[0];
      const y=f=>api.coord([0,f])[1];
      const ln=(x1,y1,x2,y2,w,dash)=>({type:'line',shape:{x1,y1,x2,y2},style:{stroke:'#222',lineWidth:w,lineDash:dash||null}});
      const dot=i=>({type:'circle',shape:{cx:X(i),cy:y(0),r:4},style:{fill:'#000'}});
      return {type:'group',children:[
        ln(X(0),y(0),X(1),y(0),1.3,[5,4]),ln(X(3),y(0),X(4),y(0),1.3,[5,4]),
        dot(0),dot(4),
        ln(X(0),y(.52),X(0),y(-.52),1.3),ln(X(4),y(.52),X(4),y(-.52),1.3),
        {type:'rect',shape:{x:X(1),y:y(.95),width:X(3)-X(1),height:y(-.95)-y(.95)},style:{fill:FILL,stroke:INK,lineWidth:1.4}},
        ln(X(2),y(.95),X(2),y(-.95),3)
      ]};
    }});
  titles.push({text:P.name,left:P.tx,top:P.ty,textAlign:'center',textStyle:{fontFamily:FONT,fontWeight:'bold',fontSize:20,color:'#111'},padding:0});
});

const graphicTexts=[
 {type:'text',x:159,y:351,rotation:-Math.PI/2,style:{text:'Vertical',font:'27px '+FONT,fill:TXT,align:'center',verticalAlign:'middle'}},
 {type:'text',x:341,y:727,rotation:-0.38,style:{text:'Lateral',font:'27px '+FONT,fill:TXT,align:'center',verticalAlign:'middle'}},
 {type:'text',x:817,y:699,rotation:0.57,style:{text:'Longitudinal',font:'27px '+FONT,fill:TXT,align:'center',verticalAlign:'middle'}}
];

const chart=echarts.init(document.getElementById('c'),null,{renderer:'canvas'});
chart.setOption({
  animation:false,backgroundColor:'#fff',title:titles,grid:grids,xAxis:xAxes,yAxis:yAxes,
  visualMap:[{show:false,type:'continuous',seriesIndex:[envelopeIndex,coreIndex,scatterIndex],dimension:1,min:colorMin,max:colorMax,inRange:{color:pointColors}}],
  graphic:{elements:graphicTexts},series
});
</script></body></html>
